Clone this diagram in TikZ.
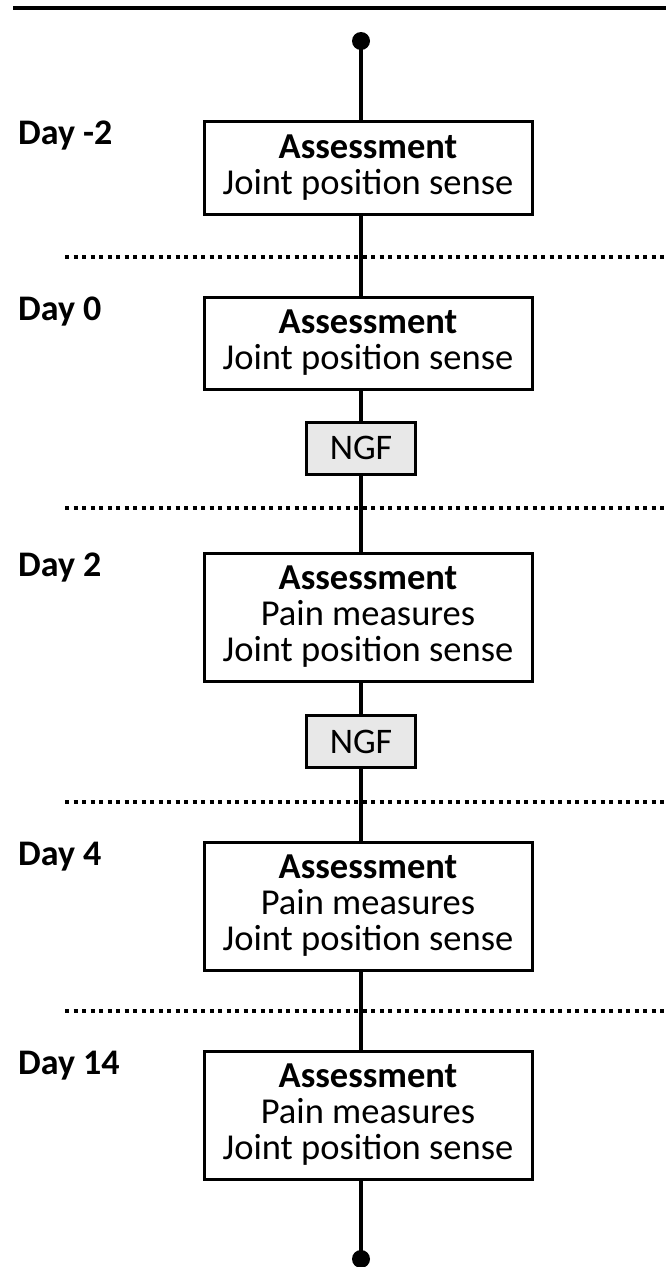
\documentclass[tikz,border=0pt]{standalone}
\usepackage{fontspec}
\setmainfont{Carlito}
\usepackage{tikz}

\begin{document}
\begin{tikzpicture}[x=1pt,y=-1pt,
  assessbox/.style={draw,line width=3pt,fill=white,align=center,minimum width=328pt,inner sep=0pt,font=\fontsize{36.5}{36}\selectfont},
  ngfbox/.style={draw,line width=3pt,fill=gray!18,minimum width=109pt,minimum height=52pt,inner sep=0pt,font=\fontsize{36}{36}\selectfont},
  daylabel/.style={anchor=base west,inner sep=0pt,font=\fontsize{36}{36}\selectfont\bfseries},
  timeline/.style={line width=4pt},
  dayline/.style={line width=3.5pt,dash pattern=on 4pt off 4.5pt}]
  \useasboundingbox (0,0) rectangle (666,1267);
  \draw[line width=4.5pt] (13,8) -- (666,8);

  % dotted day separators
  \draw[dayline] (65,257) -- (666,257);
  \draw[dayline] (65,508) -- (666,508);
  \draw[dayline] (65,802) -- (666,802);
  \draw[dayline] (65,1011) -- (666,1011);

  \coordinate (start) at (361,41);
  \coordinate (stop) at (361,1259);

  \node[assessbox,minimum height=93pt] (as1) at (368,167.5) {\textbf{Assessment}\\Joint position sense};
  \node[assessbox,minimum height=92pt] (as2) at (368,343) {\textbf{Assessment}\\Joint position sense};
  \node[ngfbox] (ngf1) at (361,448) {NGF};
  \node[assessbox,minimum height=128pt] (as3) at (368,617) {\textbf{Assessment}\\Pain measures\\Joint position sense};
  \node[ngfbox] (ngf2) at (361,741.5) {NGF};
  \node[assessbox,minimum height=128pt] (as4) at (368,906) {\textbf{Assessment}\\Pain measures\\Joint position sense};
  \node[assessbox,minimum height=128pt] (as5) at (368,1115) {\textbf{Assessment}\\Pain measures\\Joint position sense};

  \node[daylabel] (d1) at (18,144) {Day -2};
  \node[daylabel] (d2) at (18,320) {Day 0};
  \node[daylabel] (d3) at (18,576) {Day 2};
  \node[daylabel] (d4) at (18,865) {Day 4};
  \node[daylabel] (d5) at (18,1074) {Day 14};

  \draw[timeline] (start) -- (start |- as1.north);
  \draw[timeline] (start |- as1.south) -- (start |- as2.north);
  \draw[timeline] (start |- as2.south) -- (ngf1);
  \draw[timeline] (ngf1) -- (start |- as3.north);
  \draw[timeline] (start |- as3.south) -- (ngf2);
  \draw[timeline] (ngf2) -- (start |- as4.north);
  \draw[timeline] (start |- as4.south) -- (start |- as5.north);
  \draw[timeline] (start |- as5.south) -- (stop);
  \fill (start) circle (9pt);
  \fill (stop) circle (9pt);
\end{tikzpicture}
\end{document}
